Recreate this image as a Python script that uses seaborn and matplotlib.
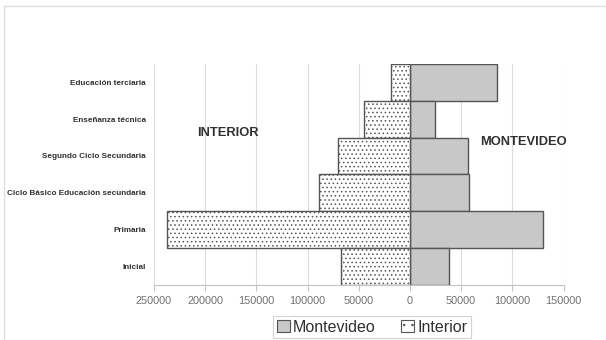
import matplotlib
matplotlib.use("Agg")
import matplotlib.pyplot as plt
import seaborn as sns
import pandas as pd
from matplotlib.patches import Patch
from matplotlib.lines import Line2D
from matplotlib.ticker import FuncFormatter, MultipleLocator

categorias = [
    "Educación terciaria",
    "Enseñanza técnica",
    "Segundo Ciclo Secundaria",
    "Ciclo Básico Educación secundaria",
    "Primaria",
    "Inicial",
]
montevideo = [85000, 24500, 56500, 57500, 130000, 38000]
interior = [18500, 44500, 70500, 88500, 237000, 67000]

df = pd.DataFrame({"nivel": categorias, "Montevideo": montevideo,
                   "Interior": [-v for v in interior]})

sns.set_theme(style="white")
plt.rcParams["font.family"] = ["Liberation Sans", "DejaVu Sans"]
plt.rcParams["hatch.color"] = "#a0a0a0"
plt.rcParams["hatch.linewidth"] = 0.6

W, H = 606, 340
fig = plt.figure(figsize=(W / 100, H / 100), dpi=100)
ax = fig.add_axes([154 / W, 1 - 284.5 / H, (563.5 - 154) / W, (284.5 - 64) / H])

sns.barplot(data=df, y="nivel", x="Montevideo", orient="h", width=1.0,
            color="#c8c8c8", edgecolor="#555555", linewidth=1.0,
            saturation=1, ax=ax, zorder=3)
sns.barplot(data=df, y="nivel", x="Interior", orient="h", width=1.0,
            color="white", edgecolor="#555555", linewidth=1.0,
            saturation=1, hatch="....", ax=ax, zorder=3)

ax.set_xlim(-250000, 150000)
ax.set_ylim(5.5, -0.5)
ax.xaxis.set_major_locator(MultipleLocator(50000))
ax.xaxis.set_major_formatter(FuncFormatter(lambda v, p: f"{abs(int(v))}"))
ax.grid(axis="x", color="#dcdcdc", linewidth=0.8, zorder=0)
ax.set_xlabel("")
ax.set_ylabel("")

for s in ["top", "right", "left"]:
    ax.spines[s].set_visible(False)
ax.spines["bottom"].set_color("#c4c4c4")
ax.spines["bottom"].set_linewidth(0.8)

ax.tick_params(axis="x", colors="#c4c4c4", length=4, width=0.8, pad=4,
               labelcolor="#707070", labelsize=7.8, bottom=True)
ax.tick_params(axis="y", length=0, pad=6, labelsize=5.9, labelcolor="#303030")
for lbl in ax.get_yticklabels():
    lbl.set_fontweight("bold")

ax.text(-178000, 1.38, "INTERIOR", ha="center", va="center",
        fontsize=9.3, fontweight="bold", color="#303030", zorder=4)
ax.text(111000, 1.62, "MONTEVIDEO", ha="center", va="center",
        fontsize=9.3, fontweight="bold", color="#303030", zorder=4)

handles = [
    Patch(facecolor="#c8c8c8", edgecolor="#555555", linewidth=0.8, label="Montevideo"),
    Patch(facecolor="white", edgecolor="#555555", linewidth=0.8, hatch="..", label="Interior"),
]
leg = fig.legend(handles=handles, loc="center", bbox_to_anchor=(372 / W, 1 - 327 / H),
                 ncol=2, fontsize=11.5, frameon=True, fancybox=False,
                 handlelength=0.8, handleheight=0.8, handletextpad=0.2,
                 columnspacing=1.6, borderpad=0.25)
leg.get_frame().set_edgecolor("#c8c8c8")
leg.get_frame().set_linewidth(0.8)
for t in leg.get_texts():
    t.set_color("#303030")

# chart frame edges along the top and left
fig.add_artist(Line2D([4 / W, 1], [1 - 6 / H, 1 - 6 / H], transform=fig.transFigure,
                      color="#dedede", linewidth=1.0))
fig.add_artist(Line2D([4 / W, 4 / W], [0, 1 - 6 / H], transform=fig.transFigure,
                      color="#dedede", linewidth=1.0))

fig.savefig("out.png", dpi=100)
